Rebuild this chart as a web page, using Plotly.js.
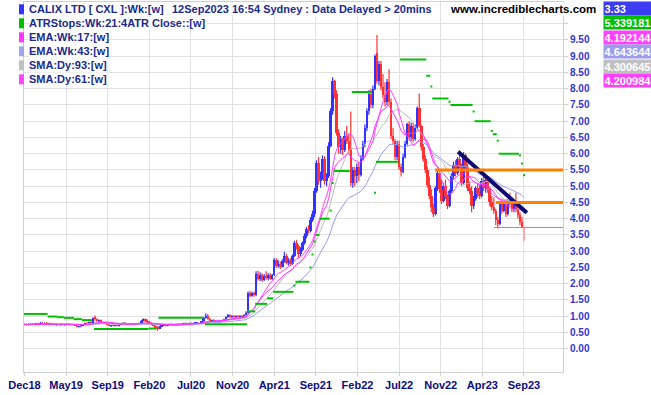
<!DOCTYPE html>
<html><head><meta charset="utf-8">
<script src="https://cdn.plot.ly/plotly-3.0.1.min.js"></script>
<style>html,body{margin:0;padding:0;background:#fff;}#chart{width:651px;height:395px;}</style>
</head><body><div id="chart"></div>
<script>
// ---------- DATA ----------
const firstWeek = '2018-12-10';
const open = [
.76,.74,.76,.74,.77,.75,.76,.78,.76,.80,.78,.80,.77,.78,.75,.76,.73,.74,.73,.75,
.73,.75,.76,.74,.75,.73,.71,.68,.69,.70,.75,.79,.78,.83,.80,.99,.90,.85,.88,.81,
.79,.76,.73,.70,.72,.71,.73,.70,.73,.76,.80,.75,.77,.75,.76,.74,.76,.75,.79,.86,
.90,.84,.82,.78,.74,.70,.66,.62,.68,.72,.74,.71,.74,.76,.73,.75,.74,.77,.75,.77,
.79,.76,.78,.79,.77,.79,.80,.77,.78,.84,.96,1.02,.92,.86,.88,.84,.86,.83,.85,.86,
.90,.98,1.03,.97,1.01,.97,1.00,.98,1.01,.98,1.04,1.10,1.70,1.62,1.72,1.64,2.30,2.15,2.28,2.12,
2.25,2.18,2.28,2.16,2.26,2.72,2.55,2.62,2.52,2.70,2.85,2.65,2.72,2.60,2.85,3.25,3.15,2.90,3.05,3.25,
3.48,3.68,3.62,3.95,4.15,4.85,5.70,5.15,5.30,5.85,5.15,5.30,6.25,7.30,8.25,7.85,6.65,6.20,6.45,6.10,
6.55,6.40,6.15,5.10,5.50,5.30,5.60,5.35,5.85,6.30,6.80,7.30,7.85,7.50,8.00,9.10,8.25,8.75,8.05,7.80,
7.60,8.20,7.60,6.55,6.40,5.90,6.30,5.60,5.45,5.90,6.30,6.90,6.50,6.85,6.45,6.80,7.40,6.85,6.20,5.85,
5.50,5.05,4.70,4.35,4.15,4.95,5.40,4.90,4.55,5.00,4.70,4.40,4.85,5.30,5.65,5.40,5.85,5.60,5.10,5.95,
5.60,4.95,4.85,4.40,4.60,4.95,4.75,4.70,5.15,4.95,5.20,4.90,4.50,4.35,4.25,3.95,3.85,4.45,4.25,4.50,
4.15,4.55,4.45,4.30,4.50,4.30,4.10,3.90,3.75];
const high = [
.78,.77,.78,.79,.79,.78,.79,.80,.82,.83,.81,.82,.80,.80,.78,.78,.76,.76,.76,.77,
.76,.78,.78,.77,.77,.75,.73,.71,.72,.76,.80,.82,.84,.86,.96,1.02,.94,.90,.90,.84,
.82,.79,.76,.74,.75,.74,.75,.74,.78,.82,.82,.78,.79,.78,.78,.77,.78,.80,.88,.93,
.93,.90,.85,.80,.76,.72,.69,.70,.73,.76,.76,.75,.77,.78,.76,.77,.78,.79,.78,.80,
.81,.79,.81,.81,.80,.82,.82,.80,.85,.98,1.08,1.07,.95,.90,.91,.88,.89,.87,.88,.92,
1.00,1.07,1.06,1.03,1.04,1.02,1.04,1.03,1.04,1.06,1.15,1.76,1.78,1.75,1.76,2.38,2.40,2.35,2.32,2.30,
2.38,2.32,2.33,2.30,2.78,2.78,2.72,2.68,2.75,2.98,2.92,2.80,2.78,2.90,3.32,3.35,3.20,3.12,3.30,3.55,
3.75,3.80,4.05,4.25,4.95,5.80,5.90,5.45,5.95,5.92,5.40,6.35,7.40,8.35,8.28,7.95,6.75,6.55,6.50,6.70,
6.85,6.60,7.30,5.60,5.60,5.70,5.75,5.95,6.40,6.90,7.40,7.95,8.00,8.10,9.05,9.65,8.85,8.85,8.45,8.20,
8.30,8.60,7.70,6.80,6.45,6.40,6.40,5.70,6.00,6.40,6.95,7.00,6.95,6.95,6.90,7.45,7.85,6.90,6.30,5.95,
5.60,5.30,4.90,4.45,5.00,5.50,5.45,5.20,5.10,5.20,4.75,4.90,5.40,5.75,5.80,5.90,6.10,5.70,6.05,6.00,
5.70,5.15,5.00,4.70,5.00,5.10,5.05,5.25,5.30,5.25,5.25,4.95,4.70,4.65,4.30,4.05,4.50,4.55,4.55,4.60,
4.60,4.80,4.60,4.55,4.80,4.40,4.20,4.05,3.78];
const low = [
.72,.72,.73,.73,.74,.73,.74,.75,.75,.77,.75,.76,.75,.74,.73,.72,.71,.72,.71,.72,
.71,.73,.73,.72,.72,.70,.66,.65,.66,.69,.74,.76,.77,.79,.79,.86,.83,.80,.79,.77,
.75,.72,.69,.67,.69,.68,.69,.68,.72,.75,.74,.73,.74,.73,.73,.72,.73,.74,.78,.84,
.82,.80,.76,.72,.68,.60,.55,.60,.66,.70,.70,.69,.72,.72,.71,.72,.73,.74,.73,.75,
.75,.74,.76,.75,.75,.76,.76,.75,.77,.83,.93,.90,.84,.82,.83,.81,.82,.80,.82,.84,
.88,.95,.95,.94,.95,.94,.96,.95,.96,.97,1.02,1.08,1.58,1.60,1.60,1.62,2.10,2.08,2.05,2.08,
2.12,2.10,2.12,2.12,2.24,2.48,2.50,2.45,2.50,2.65,2.60,2.55,2.55,2.58,2.82,3.05,2.80,2.85,3.00,3.20,
3.40,3.55,3.58,3.90,4.05,4.80,5.05,4.95,5.20,5.05,5.00,5.25,6.20,7.20,7.70,6.55,6.00,6.00,5.95,6.05,
6.30,6.00,5.00,4.95,5.00,5.10,5.15,5.30,5.80,6.20,6.70,7.20,7.40,7.40,7.95,8.15,8.10,7.95,7.70,7.45,
7.50,7.50,6.45,6.30,5.80,5.80,5.50,5.30,5.40,5.85,6.25,6.40,6.40,6.35,6.40,6.75,6.80,6.10,5.75,5.40,
4.95,4.60,4.20,4.05,4.10,4.85,4.80,4.45,4.50,4.60,4.30,4.35,4.80,5.20,5.30,5.35,5.55,5.00,5.05,5.50,
4.85,4.75,4.20,4.30,4.55,4.65,4.60,4.65,4.85,4.80,4.80,4.40,4.25,4.15,3.80,3.70,3.80,4.15,4.20,4.05,
4.10,4.35,4.20,4.20,4.20,4.00,3.80,3.72,3.30];
const close = [
.74,.76,.74,.77,.75,.76,.78,.76,.80,.78,.80,.77,.78,.75,.76,.73,.74,.73,.75,.73,
.75,.76,.74,.75,.73,.71,.68,.69,.70,.75,.79,.78,.83,.80,.94,.90,.85,.88,.81,.79,
.76,.73,.70,.72,.71,.73,.70,.73,.76,.80,.75,.77,.75,.76,.74,.76,.75,.79,.86,.90,
.84,.82,.78,.74,.70,.65,.62,.68,.72,.74,.71,.74,.76,.73,.75,.74,.77,.75,.77,.79,
.76,.78,.79,.77,.79,.80,.77,.78,.84,.96,1.02,.92,.86,.88,.84,.86,.83,.85,.86,.90,
.98,1.03,.97,1.01,.97,1.00,.98,1.01,.98,1.04,1.10,1.70,1.62,1.72,1.64,2.30,2.15,2.28,2.12,2.25,
2.18,2.28,2.16,2.26,2.72,2.55,2.62,2.52,2.70,2.85,2.65,2.72,2.60,2.85,3.25,3.15,2.90,3.05,3.25,3.48,
3.68,3.62,3.95,4.15,4.85,5.70,5.15,5.30,5.85,5.15,5.30,6.25,7.30,8.25,7.85,6.65,6.20,6.45,6.10,6.55,
6.40,6.15,5.10,5.50,5.30,5.60,5.35,5.85,6.30,6.80,7.30,7.85,7.50,8.00,9.00,8.25,8.75,8.05,7.80,7.60,
8.20,7.60,6.55,6.40,5.90,6.30,5.60,5.45,5.90,6.30,6.90,6.50,6.85,6.45,6.80,7.40,6.85,6.20,5.85,5.50,
5.05,4.70,4.35,4.15,4.95,5.40,4.90,4.55,5.00,4.70,4.40,4.85,5.30,5.65,5.40,5.85,5.60,5.10,5.95,5.60,
4.95,4.85,4.40,4.60,4.95,4.75,4.70,5.15,4.95,5.20,4.90,4.50,4.35,4.25,3.95,3.85,4.45,4.25,4.50,4.15,
4.55,4.45,4.30,4.50,4.30,4.10,3.90,3.75,3.33];
const atrStop = [
1.07,1.07,1.07,1.07,1.07,1.07,1.07,1.07,1.07,1.07,1.07,1.07,
0.99,0.99,0.99,0.99,0.99, 0.97,0.97,0.97, 0.95,0.95,0.95,0.95,0.95, 0.91,0.91,0.91,0.91,
0.88,0.88,0.88,0.88,0.88, null,
0.61,0.61,0.61,0.61,0.61,0.61,0.61,0.61,0.61,0.61,0.61,0.61,0.61,0.61,0.61,0.61,0.61,0.61,0.61,0.61,
0.61,0.61,0.61,0.61,0.61,0.61,0.61, 0.62,0.62,0.62,0.62, null,
0.95,0.95,0.95,0.95,0.95,0.95,0.95,0.95,0.95,0.95,0.95,0.95,0.95,0.95,0.95,0.95,0.95,0.95,0.95,0.95,
0.95,0.95, null,
0.75,0.75,0.75,0.75,0.75,0.75,0.75,0.75,0.75,0.75,0.75,0.75,0.75,0.75,0.75,0.75,0.75,0.75,0.75,0.75,0.75,
1.15,1.15,1.15,1.15, 1.38,1.38,1.38,1.38,1.38,1.38, 1.55,1.55,1.55,
1.75,1.75,1.75,1.75,1.75,1.75,1.75,1.75,1.75,1.75, 1.94,
2.06,2.06,2.06,2.06,2.06,2.06,2.06, 2.5, 2.9, 3.3, 3.5,3.5, 4.0,4.0,4.0,4.0,4.0, 4.25, 5.1,
5.47,5.47,5.47,5.47,5.47,5.47,5.47,5.47, null,
7.9,7.9,7.9,7.9,7.9,7.9,7.9,7.9,7.9,7.9, null, 4.8,
5.75,5.75,5.75,5.75,5.75,5.75,5.75,5.75,5.75,5.75,5.75, null,
8.9,8.9,8.9,8.9,8.9,8.9,8.9,8.9,8.9,8.9,8.9,8.9,8.9, 8.4,8.4, 8.07,
7.7,7.7,7.7,7.7,7.7,7.7,7.7,7.7, 7.6,
7.5,7.5,7.5,7.5,7.5,7.5,7.5,7.5,7.5,7.5,7.5, 7.3,
7.0,7.0,7.0,7.0,7.0,7.0,7.0,7.0, 6.7, 6.6,6.6, 6.4,
6.0,6.0,6.0,6.0,6.0,6.0,6.0,6.0,6.0,6.0, 5.95, 5.7, 5.34];
const xTickLabels = ['Dec18','May19','Sep19','Feb20','Jul20','Nov20','Apr21','Sep21','Feb22','Jul22','Nov22','Apr23','Sep23'];
const yTickValues = [0,0.5,1,1.5,2,2.5,3,3.5,4,4.5,5,5.5,6,6.5,7,7.5,8,8.5,9,9.5,10];
const trendDates = ['2023-01-25','2023-09-21'];
const trendPrices = [6.06, 4.18];
const levelStarts = ['2022-11-06','2023-06-05','2023-05-30'];
const levelPrices = [5.5, 4.5, 3.73];
const legendLabels = ['CALIX LTD [ CXL ]:Wk:[w]','ATRStops:Wk:21:4ATR Close::[w]','EMA:Wk:17:[w]','EMA:Wk:43:[w]','SMA:Dy:93:[w]','SMA:Dy:61:[w]'];
const headerNote = '12Sep2023 16:54 Sydney : Data Delayed > 20mins';
const siteName = 'www.incrediblecharts.com';
const lastValues = ['3.33','5.339181','4.192144','4.643644','4.300645','4.200984'];
const emaPeriods = [17, 43];      // weeks
const smaPeriodsDays = [93, 61];  // trading days (5 per week)

// ---------- STYLE ----------
const C = {
  up:'#3333ff', down:'#ff3333', last:'#ffa6a6', atr:'#00c000',
  ema17:'#ff33ff', ema43:'#9b9bf2', sma93:'#bdbdbd', sma61:'#ff44ff',
  grid:'#e1e1e1', axis:'#d0d0d0', ytxt:'#3535d6', xtxt:'#0c0c7c', legtxt:'#1b2a8c',
  orange:'#ff8000', trend:'#0b0b70'
};
const legendColors = [C.up, C.atr, C.ema17, '#a3a3ee', '#c0c0c0', C.sma61];
const valueColors = ['#3c3cf0', '#00c000', '#ff40ff', '#9d9dea', '#c0c0c0', '#ff40ff'];

const DAY = 86400000, WEEK = 7*DAY;
const t0 = Date.parse(firstWeek + 'T00:00:00Z');
const n = close.length;
const tms = close.map((_, i) => t0 + i*WEEK);
const iso = ms => new Date(ms).toISOString().replace('T',' ').slice(0,19);
const dates = tms.map(iso);

// plot box in pixels
const PL = 24, PR = 563, PT = 2, PB = 372;
const pxPerWeek = 2.014;
const xRange = [iso(t0 - (24.5 - PL)/pxPerWeek*WEEK), iso(t0 + (PR - 24.5)/pxPerWeek*WEEK)];
const yRange = [-(PB - 348.7)/32.5, 9.5 + (40 - PT)/32.5];
const paperX = p => (p - PL)/(PR - PL);
const paperY = p => (PB - p)/(PB - PT);

const traces = [];
const idxAll = [...Array(n).keys()];
function bodyTrace(idx, color){
  return {type:'bar', x: idx.map(i=>dates[i]), base: idx.map(i=>Math.min(open[i],close[i])),
    y: idx.map(i=>Math.max(Math.abs(close[i]-open[i]), 0.025)), width: 1.25*WEEK,
    marker:{color, line:{width:0}}, hoverinfo:'skip', showlegend:false};
}
function wickTrace(idx, color){
  const x=[], y=[];
  idx.forEach(i=>{ x.push(dates[i],dates[i],null); y.push(low[i],high[i],null); });
  return {type:'scatter', mode:'lines', x, y, line:{color, width:1.2}, hoverinfo:'skip', showlegend:false};
}
const upIdx = idxAll.filter(i => i < n-1 && close[i] >= open[i]);
const dnIdx = idxAll.filter(i => i < n-1 && close[i] < open[i]);
const lastIdx = [n-1];
traces.push(wickTrace(upIdx, C.up), bodyTrace(upIdx, C.up));
traces.push(wickTrace(dnIdx, C.down), bodyTrace(dnIdx, C.down));
traces.push(wickTrace(lastIdx, C.last), bodyTrace(lastIdx, C.last));

// indicators
function ema(p){ const a = 2/(p+1); const out=[]; close.forEach((c,i)=>out.push(i? a*c+(1-a)*out[i-1] : c)); return out; }
function sma(p){ return close.map((_,i)=>{ const s=Math.max(0,i-p+1); const w=close.slice(s,i+1); return w.reduce((a,b)=>a+b,0)/w.length; }); }
const ma = [
  {y: sma(Math.round(smaPeriodsDays[0]/5)), color:C.sma93},
  {y: ema(emaPeriods[1]), color:C.ema43},
  {y: sma(Math.round(smaPeriodsDays[1]/5)), color:C.sma61},
  {y: ema(emaPeriods[0]), color:C.ema17}
];
ma.forEach(m => traces.push({type:'scatter', mode:'lines', x:dates, y:m.y, line:{color:m.color, width:1}, hoverinfo:'skip', showlegend:false}));

// ATR stop: one horizontal run per level, broken where the level changes
(function(){
  const x=[], y=[];
  let prev = null;
  atrStop.forEach((v,i)=>{
    if(v===null){ prev = null; return; }
    const a = iso(tms[i]-0.5*WEEK), b = iso(tms[i]+0.5*WEEK);
    if(prev !== null && v === prev){ x[x.length-1] = b; }
    else { x.push(null, a, b); y.push(null, v, v); }
    prev = v;
  });
  traces.push({type:'scatter', mode:'lines', x, y, line:{color:C.atr, width:2}, hoverinfo:'skip', showlegend:false, connectgaps:false});
})();

// trend line
traces.push({type:'scatter', mode:'lines', x:trendDates, y:trendPrices, line:{color:C.trend, width:4}, hoverinfo:'skip', showlegend:false});

const shapes = [];
levelPrices.forEach((p,k)=>{
  shapes.push({type:'line', xref:'x', yref:'y', x0:levelStarts[k], x1:xRange[1], y0:p, y1:p,
    line:{color:C.orange, width: k<2 ? 3 : 1}});
});
legendColors.forEach((col,k)=>{
  const cy = 9.3 + 14*k;
  shapes.push({type:'rect', xref:'paper', yref:'paper', x0:paperX(19), x1:paperX(24), y0:paperY(cy+5), y1:paperY(cy-5),
    fillcolor:col, line:{width:0}});
});

const font = (size,color) => ({family:"'Liberation Sans', Arial, sans-serif", size, color, weight:'bold'});
const annotations = [];
legendLabels.forEach((t,k)=>{
  annotations.push({xref:'paper', yref:'paper', x:paperX(28), y:paperY(9.3+14*k), xanchor:'left', yanchor:'middle',
    text:t, showarrow:false, font:font(11, C.legtxt), bgcolor:'#ffffff', borderpad:0});
});
annotations.push({xref:'paper', yref:'paper', x:paperX(171), y:paperY(9.3), xanchor:'left', yanchor:'middle',
  text:headerNote, showarrow:false, font:font(11, C.legtxt), bgcolor:'#ffffff', borderpad:0});
annotations.push({xref:'paper', yref:'paper', x:paperX(449), y:paperY(9.3), xanchor:'left', yanchor:'middle',
  text:siteName, showarrow:false, font:font(11.5, '#000000'), bgcolor:'#ffffff', borderpad:0});
lastValues.forEach((t,k)=>{
  annotations.push({xref:'paper', yref:'paper', x:paperX(603), y:paperY(8.2+14.5*k), xanchor:'left', yanchor:'middle',
    text:t, showarrow:false, width:47, height:12, align:'left', font:font(11, '#ffffff'), bgcolor:valueColors[k], borderpad:0.5});
});

const tickDates = xTickLabels.map((_,k)=> iso(tms[0] + k*(tms[n-1]-tms[0])/(xTickLabels.length-1)));
const layout = {
  width:651, height:395, margin:{l:PL, r:651-PR, t:PT, b:395-PB, pad:0},
  paper_bgcolor:'#ffffff', plot_bgcolor:'#ffffff', showlegend:false, barmode:'overlay', bargap:0,
  xaxis:{type:'date', range:xRange, tickmode:'array', tickvals:tickDates, ticktext:xTickLabels,
    showgrid:true, gridcolor:C.grid, gridwidth:1, zeroline:false, showline:true, linecolor:C.axis, linewidth:1, mirror:true,
    ticks:'outside', ticklen:3, tickcolor:C.axis,
    tickfont:{family:"'Liberation Sans', Arial, sans-serif", size:11, color:C.xtxt, weight:'bold'}},
  yaxis:{side:'right', range:yRange, tickmode:'array', tickvals:yTickValues,
    ticktext:yTickValues.map(v => v < 10 ? v.toFixed(2) : ''),
    showgrid:true, gridcolor:C.grid, gridwidth:1, zeroline:false, showline:true, linecolor:C.axis, linewidth:1, mirror:true,
    ticks:'outside', ticklen:4, tickcolor:C.axis,
    tickfont:font(10, C.ytxt)},
  shapes, annotations
};
Plotly.newPlot('chart', traces, layout, {staticPlot:true, displayModeBar:false});
</script></body></html>
